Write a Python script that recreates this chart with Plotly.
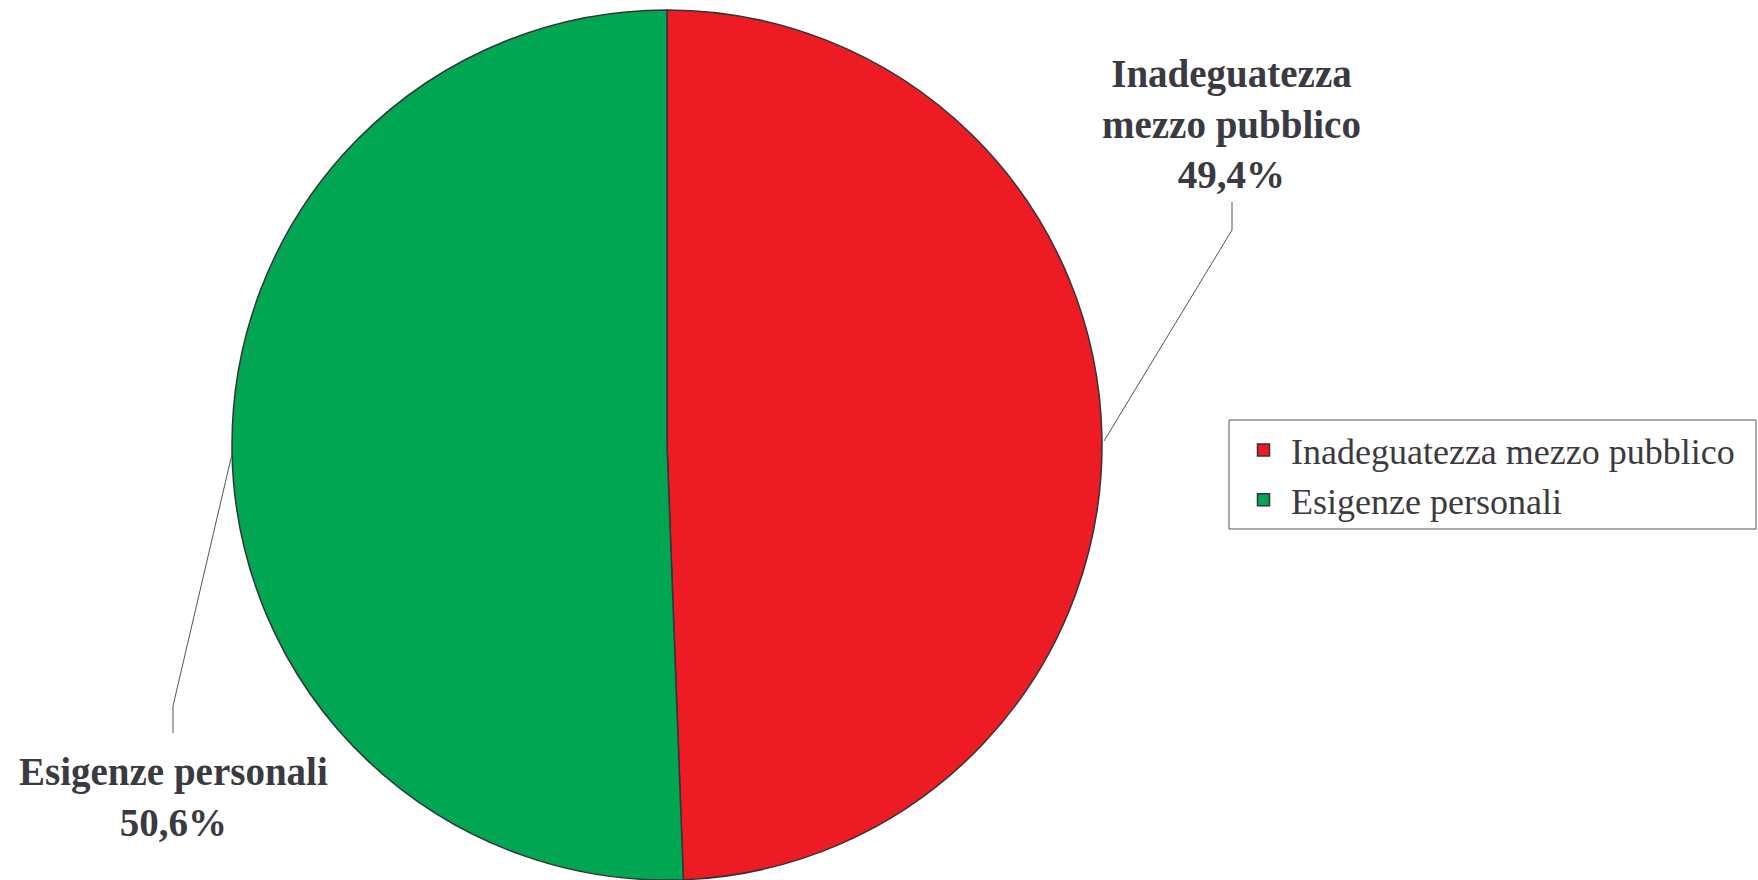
import plotly.graph_objects as go

labels = ["Inadeguatezza mezzo pubblico", "Esigenze personali"]
values = [49.4, 50.6]
colors = ["#ED1C24", "#00A651"]
label_text = ["Inadeguatezza<br>mezzo pubblico<br>49,4%", "Esigenze personali<br>50,6%"]

W, H = 1758, 880
TXT = "#3a3a40"
FONT = "Liberation Serif, Times New Roman, serif"

def px(x):
    return x / W

def py(y):
    return min(1.0, max(0.0, (H - y) / H))

cx, cy, r = 667, 445, 435

fig = go.Figure(go.Pie(
    labels=labels,
    values=values,
    marker=dict(colors=colors, line=dict(color="#333338", width=1.5)),
    sort=False,
    direction="clockwise",
    rotation=0,
    textinfo="none",
    hoverinfo="label+percent",
    domain=dict(x=[px(cx - r), px(cx + r)], y=[py(cy + r), py(cy - r)]),
))

fig.add_annotation(x=px(1231), y=py(124), xref="paper", yref="paper",
                   xanchor="center", yanchor="middle",
                   text="<b>" + label_text[0] + "</b>", showarrow=False,
                   font=dict(family=FONT, size=39, color=TXT), align="center")
fig.add_annotation(x=px(173), y=py(797), xref="paper", yref="paper",
                   xanchor="center", yanchor="middle",
                   text="<b>" + label_text[1] + "</b>", showarrow=False,
                   font=dict(family=FONT, size=39, color=TXT), align="center")

fig.add_shape(type="path", xref="paper", yref="paper",
              path=f"M {px(1232)} {py(202)} L {px(1232)} {py(230)} L {px(1104)} {py(441)}",
              line=dict(color="#555555", width=1))
fig.add_shape(type="path", xref="paper", yref="paper",
              path=f"M {px(173)} {py(733)} L {px(173)} {py(706)} L {px(232)} {py(454)}",
              line=dict(color="#555555", width=1))

# legend frame
fig.add_shape(type="rect", xref="paper", yref="paper",
              x0=px(1229), x1=px(1756), y0=py(529), y1=py(420),
              line=dict(color="#555555", width=1), fillcolor="rgba(0,0,0,0)")

fig.update_layout(
    width=W, height=H,
    margin=dict(l=0, r=0, t=0, b=0),
    paper_bgcolor="white",
    plot_bgcolor="white",
    showlegend=True,
    legend=dict(
        x=px(1236), y=py(420), xanchor="left", yanchor="top",
        borderwidth=0, bgcolor="rgba(0,0,0,0)",
        font=dict(family=FONT, size=36, color=TXT),
        traceorder="normal",
        itemwidth=45,
    ),
)

fig.write_html("out.html", config={"displayModeBar": False},
               post_script="document.body.style.margin='0';")
